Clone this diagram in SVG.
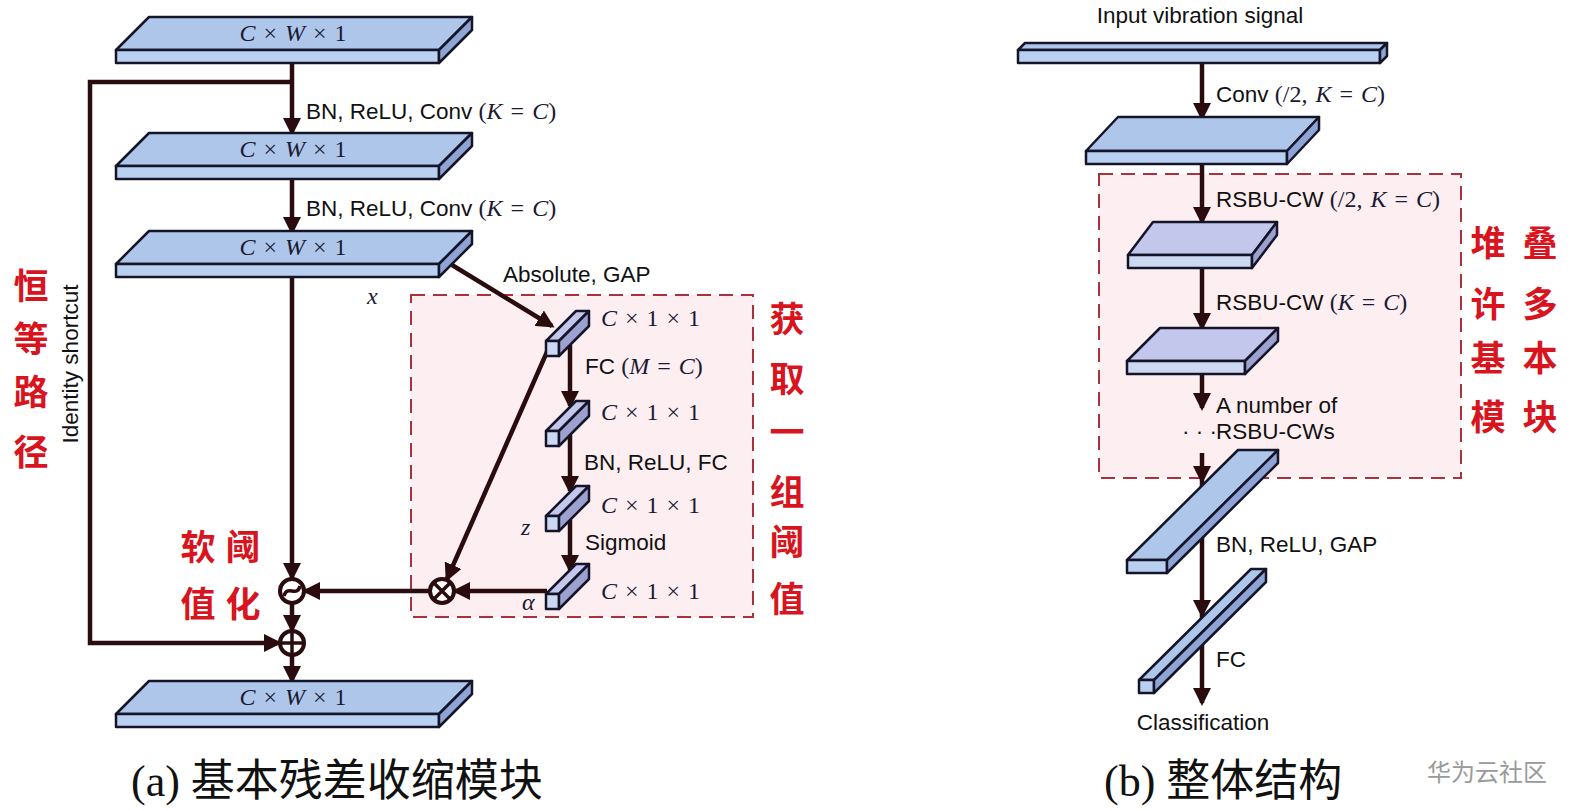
<svg xmlns="http://www.w3.org/2000/svg" width="1573" height="811" viewBox="0 0 1573 811">
<style>
.bg{fill:#ffffff}
.box{fill:#fdeef1;stroke:#a8323e;stroke-width:2;stroke-dasharray:14 8}
.top{fill:#aec6ea;stroke:#15152a;stroke-width:2.5;stroke-linejoin:round}
.front{fill:#b9d0f1;stroke:#15152a;stroke-width:2.5;stroke-linejoin:round}
.side{fill:#8ea4d4;stroke:#15152a;stroke-width:2.5;stroke-linejoin:round}
.ltop{fill:#c4c7ec;stroke:#15152a;stroke-width:2.5;stroke-linejoin:round}
.lfront{fill:#cdd8f2;stroke:#15152a;stroke-width:2.5;stroke-linejoin:round}
.lside{fill:#9ca1d0;stroke:#15152a;stroke-width:2.5;stroke-linejoin:round}
.arr{fill:none;stroke:#2a0c0e;stroke-width:4.5;marker-end:url(#ah)}
.op{fill:#ffffff;stroke:#2a0c0e;stroke-width:4}
.opl{fill:none;stroke:#2a0c0e;stroke-width:3.5}
.lab{font-family:"Liberation Sans",Arial,sans-serif;font-size:22.5px;fill:#111111}
.math{font-family:"Liberation Serif","Times New Roman",serif;font-size:24px;fill:#1a1a33;word-spacing:2px}
.mi{font-style:italic}
.red{font-family:"Noto Sans CJK SC",sans-serif;font-size:35px;font-weight:700;fill:#d8141e;text-anchor:middle}
.cap{font-family:"Liberation Serif","Noto Sans CJK SC",serif;font-size:44px;fill:#111111}
.wm{font-family:"Noto Sans CJK SC",sans-serif;font-size:24px;fill:#9a9a9a}
</style>
<defs>
<marker id="ah" viewBox="0 0 18 18" refX="15" refY="9" markerWidth="18" markerHeight="18" markerUnits="userSpaceOnUse" orient="auto">
<path d="M0,0 L18,9 L0,18 z" fill="#2a0c0e"/>
</marker>
</defs>
<rect class="bg" x="0" y="0" width="1573" height="811"/>

<g id="threshold-box"><rect class="box" x="411" y="295" width="342" height="322"/></g>
<g id="stack-box"><rect class="box" x="1099" y="174" width="362" height="304"/></g>

<g id="connectors">
<line class="arr" x1="292" y1="63" x2="292" y2="133"/>
<polyline class="arr" points="292,82 90,82 90,643 279,643"/>
<line class="arr" x1="292" y1="180" x2="292" y2="232"/>
<line class="arr" x1="292" y1="277" x2="292" y2="578"/>
<line class="arr" x1="292" y1="603" x2="292" y2="630"/>
<line class="arr" x1="292" y1="655" x2="292" y2="681"/>
<line class="arr" x1="452" y1="265" x2="552" y2="326"/>
<line class="arr" x1="550" y1="345" x2="447" y2="579"/>
<line class="arr" x1="547" y1="591" x2="455" y2="591"/>
<line class="arr" x1="430" y1="591" x2="305" y2="591"/>
<line class="arr" x1="570" y1="345" x2="570" y2="406"/>
<line class="arr" x1="570" y1="435" x2="570" y2="491"/>
<line class="arr" x1="570" y1="520" x2="570" y2="570"/>
<line class="arr" x1="1202" y1="63" x2="1202" y2="118"/>
<line class="arr" x1="1202" y1="164" x2="1202" y2="222"/>
<line class="arr" x1="1202" y1="268" x2="1202" y2="328"/>
<line class="arr" x1="1202" y1="374" x2="1202" y2="408"/>
<line class="arr" x1="1202" y1="453" x2="1202" y2="481"/>
<line class="arr" x1="1202" y1="481" x2="1202" y2="615"/>
<line class="arr" x1="1202" y1="615" x2="1202" y2="703"/>
</g>

<g id="block-a1">
<polygon class="top" points="116,50 439,50 472,17 149,17"/>
<rect class="front" x="116" y="50" width="323" height="13"/>
<polygon class="side" points="439,50 472,17 472,30 439,63"/>
<text class="math" x="293" y="41" text-anchor="middle"><tspan class="mi">C</tspan> × <tspan class="mi">W</tspan> × 1</text>
</g>
<g id="block-a2">
<polygon class="top" points="116,166 439,166 472,133 149,133"/>
<rect class="front" x="116" y="166" width="323" height="13"/>
<polygon class="side" points="439,166 472,133 472,146 439,179"/>
<text class="math" x="293" y="157" text-anchor="middle"><tspan class="mi">C</tspan> × <tspan class="mi">W</tspan> × 1</text>
</g>
<g id="block-a3">
<polygon class="top" points="116,264 439,264 472,231 149,231"/>
<rect class="front" x="116" y="264" width="323" height="13"/>
<polygon class="side" points="439,264 472,231 472,244 439,277"/>
<text class="math" x="293" y="255" text-anchor="middle"><tspan class="mi">C</tspan> × <tspan class="mi">W</tspan> × 1</text>
</g>
<g id="block-a4">
<polygon class="top" points="116,714 439,714 472,681 149,681"/>
<rect class="front" x="116" y="714" width="323" height="13"/>
<polygon class="side" points="439,714 472,681 472,694 439,727"/>
<text class="math" x="293" y="705" text-anchor="middle"><tspan class="mi">C</tspan> × <tspan class="mi">W</tspan> × 1</text>
</g>

<g id="small-1">
<polygon class="ltop" points="546,341 559,341 589,311 576,311"/>
<rect class="lfront" x="546" y="341" width="13" height="15"/>
<polygon class="lside" points="559,341 589,311 589,326 559,356"/>
<text class="math" x="601" y="326"><tspan class="mi">C</tspan> × 1 × 1</text>
</g>
<g id="small-2">
<polygon class="ltop" points="546,431 559,431 589,401 576,401"/>
<rect class="lfront" x="546" y="431" width="13" height="15"/>
<polygon class="lside" points="559,431 589,401 589,416 559,446"/>
<text class="math" x="601" y="420"><tspan class="mi">C</tspan> × 1 × 1</text>
</g>
<g id="small-3">
<polygon class="ltop" points="546,516 559,516 589,486 576,486"/>
<rect class="lfront" x="546" y="516" width="13" height="15"/>
<polygon class="lside" points="559,516 589,486 589,501 559,531"/>
<text class="math" x="601" y="513"><tspan class="mi">C</tspan> × 1 × 1</text>
<text class="math mi" x="521" y="535">z</text>
</g>
<g id="small-4">
<polygon class="ltop" points="546,594 559,594 589,564 576,564"/>
<rect class="lfront" x="546" y="594" width="13" height="15"/>
<polygon class="lside" points="559,594 589,564 589,579 559,609"/>
<text class="math" x="601" y="599"><tspan class="mi">C</tspan> × 1 × 1</text>
<text class="math mi" x="522" y="610">α</text>
</g>

<g id="op-soft">
<circle class="op" cx="292" cy="591" r="12"/>
<path class="opl" d="M284,596 C287,584 297,598 300,586"/>
</g>
<g id="op-add">
<circle class="op" cx="292" cy="643" r="12"/>
<path class="opl" d="M280,643 H304 M292,631 V655"/>
</g>
<g id="op-mul">
<circle class="op" cx="442" cy="591" r="12"/>
<path class="opl" d="M433.5,582.5 L450.5,599.5 M450.5,582.5 L433.5,599.5"/>
</g>

<g id="labels-a">
<text class="lab" x="306" y="119">BN, ReLU, Conv <tspan class="math">(<tspan class="mi">K</tspan> = <tspan class="mi">C</tspan>)</tspan></text>
<text class="lab" x="306" y="216">BN, ReLU, Conv <tspan class="math">(<tspan class="mi">K</tspan> = <tspan class="mi">C</tspan>)</tspan></text>
<text class="lab" x="503" y="282">Absolute, GAP</text>
<text class="math mi" x="367" y="304">x</text>
<text class="lab" x="585" y="374">FC <tspan class="math">(<tspan class="mi">M</tspan> = <tspan class="mi">C</tspan>)</tspan></text>
<text class="lab" x="584" y="470">BN, ReLU, FC</text>
<text class="lab" x="585" y="550">Sigmoid</text>
<text class="lab" transform="translate(78,364) rotate(-90)" text-anchor="middle">Identity shortcut</text>
<text class="red" x="31" y="299">恒</text>
<text class="red" x="31" y="352">等</text>
<text class="red" x="31" y="405">路</text>
<text class="red" x="31" y="465">径</text>
<text class="red" x="198" y="560">软</text>
<text class="red" x="243" y="560">阈</text>
<text class="red" x="198" y="617">值</text>
<text class="red" x="243" y="617">化</text>
<text class="red" x="787" y="332">获</text>
<text class="red" x="787" y="392">取</text>
<text class="red" x="787" y="445">一</text>
<text class="red" x="787" y="505">组</text>
<text class="red" x="787" y="555">阈</text>
<text class="red" x="787" y="612">值</text>
</g>

<g id="block-b1">
<polygon class="top" points="1018,50 1380,50 1387,43 1025,43"/>
<rect class="front" x="1018" y="50" width="362" height="13"/>
<polygon class="side" points="1380,50 1387,43 1387,56 1380,63"/>
</g>
<g id="block-b2">
<polygon class="top" points="1086,151 1287,151 1319,117 1118,117"/>
<rect class="front" x="1086" y="151" width="201" height="13"/>
<polygon class="side" points="1287,151 1319,117 1319,130 1287,164"/>
</g>
<g id="block-b3">
<polygon class="ltop" points="1128,255 1252,255 1277,222 1153,222"/>
<rect class="lfront" x="1128" y="255" width="124" height="13"/>
<polygon class="lside" points="1252,255 1277,222 1277,235 1252,268"/>
</g>
<g id="block-b4">
<polygon class="ltop" points="1127,361 1245,361 1278,328 1160,328"/>
<rect class="lfront" x="1127" y="361" width="118" height="13"/>
<polygon class="lside" points="1245,361 1278,328 1278,341 1245,374"/>
</g>
<g id="block-b5">
<polygon class="top" points="1127,560 1167,560 1278,450 1238,450"/>
<rect class="front" x="1127" y="560" width="40" height="13"/>
<polygon class="side" points="1167,560 1278,450 1278,463 1167,573"/>
</g>
<g id="block-b6">
<polygon class="top" points="1139,680 1154,680 1266,569 1251,569"/>
<rect class="front" x="1139" y="680" width="15" height="13"/>
<polygon class="side" points="1154,680 1266,569 1266,582 1154,693"/>
</g>

<g id="labels-b">
<text class="lab" x="1200" y="23" text-anchor="middle">Input vibration signal</text>
<text class="lab" x="1216" y="102">Conv <tspan class="math">(/2, <tspan class="mi">K</tspan> = <tspan class="mi">C</tspan>)</tspan></text>
<text class="lab" x="1216" y="207">RSBU-CW <tspan class="math">(/2, <tspan class="mi">K</tspan> = <tspan class="mi">C</tspan>)</tspan></text>
<text class="lab" x="1216" y="310">RSBU-CW <tspan class="math">(<tspan class="mi">K</tspan> = <tspan class="mi">C</tspan>)</tspan></text>
<text class="lab" x="1216" y="413">A number of</text>
<text class="lab" x="1182" y="439">· · ·</text>
<text class="lab" x="1216" y="439">RSBU-CWs</text>
<text class="lab" x="1216" y="552">BN, ReLU, GAP</text>
<text class="lab" x="1216" y="667">FC</text>
<text class="lab" x="1203" y="730" text-anchor="middle">Classification</text>
<text class="red" x="1488" y="256">堆</text>
<text class="red" x="1540" y="256">叠</text>
<text class="red" x="1488" y="317">许</text>
<text class="red" x="1540" y="317">多</text>
<text class="red" x="1488" y="371">基</text>
<text class="red" x="1540" y="371">本</text>
<text class="red" x="1488" y="430">模</text>
<text class="red" x="1540" y="430">块</text>
</g>

<g id="captions">
<text class="cap" x="131" y="796">(a) 基本残差收缩模块</text>
<text class="cap" x="1104" y="796">(b) 整体结构</text>
<text class="wm" x="1427" y="781">华为云社区</text>
</g>
</svg>
